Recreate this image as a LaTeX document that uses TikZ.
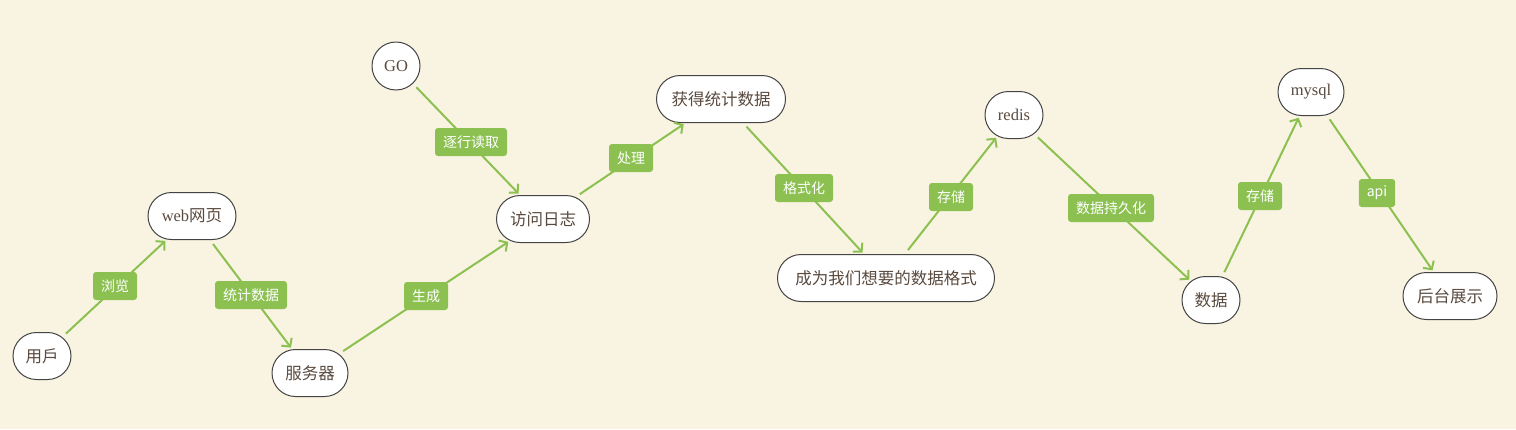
\documentclass[tikz,border=0pt]{standalone}
\usepackage{fontspec}
\setmainfont{Liberation Serif}
\newfontfamily\cjk{Noto Sans CJK SC}
\usetikzlibrary{arrows.meta,shapes.misc}
\definecolor{bgc}{HTML}{F9F4E1}
\definecolor{grn}{HTML}{8CC152}
\definecolor{txt}{HTML}{5A4A3E}
\definecolor{bd}{HTML}{444444}
\tikzset{
  box/.style={draw=bd, fill=white, line width=1pt, rounded rectangle,
    minimum height=47pt, inner xsep=6pt, text=txt, font=\fontsize{16.5}{18}\selectfont},
  lbl/.style={fill=grn, text=white, rounded corners=3pt, inner xsep=8pt, inner ysep=0pt,
    minimum height=28pt, font=\cjk\fontsize{14}{15}\selectfont},
  conn/.style={draw=grn, line width=2pt, shorten <=5pt, shorten >=2pt,
    -{Straight Barb[length=6pt,width=13pt,line width=2pt]}},
}
\begin{document}
\begin{tikzpicture}[x=1pt,y=-1pt]
\fill[bgc] (0,0) rectangle (1516,429);
\useasboundingbox (0,0) rectangle (1516,429);
\node[box, minimum width=66pt, inner xsep=4pt] (user) at (42,356) {\cjk 用戶};
\node[box, minimum width=100pt] (web) at (192,216) {web{\cjk 网页}};
\node[box, minimum width=88pt] (srv) at (310,373) {\cjk 服务器};
\node[box, minimum width=50pt, minimum height=48pt, inner xsep=1pt] (go) at (396,66) {GO};
\node[box, minimum width=105pt] (log) at (543,219) {\cjk 访问日志};
\node[box, minimum width=141pt] (stat) at (721,99) {\cjk 获得统计数据};
\node[box, minimum width=229pt] (fmt) at (886,278) {\cjk 成为我们想要的数据格式};
\node[box, minimum width=66pt, inner xsep=4pt] (redis) at (1014,115) {redis};
\node[box, minimum width=66pt, inner xsep=4pt] (data) at (1211,300) {\cjk 数据};
\node[box, minimum width=74pt, inner xsep=4pt] (mysql) at (1311,92) {mysql};
\node[box, minimum width=106pt] (show) at (1450,296) {\cjk 后台展示};

\draw[conn] (user) -- (web);
\draw[conn] (web) -- (srv);
\draw[conn] (srv) -- (log);
\draw[conn] (go) -- (log);
\draw[conn] (log) -- (stat);
\draw[conn] (stat) -- (fmt);
\draw[conn] (fmt) -- (redis);
\draw[conn] (redis) -- (data);
\draw[conn] (data) -- (mysql);
\draw[conn] (mysql) -- (show);

\node[lbl] (l1) at (115,286) {浏览};
\node[lbl] (l2) at (251,295) {统计数据};
\node[lbl] (l3) at (426,296) {生成};
\node[lbl] (l4) at (471,142) {逐行读取};
\node[lbl] (l5) at (631,158) {处理};
\node[lbl] (l6) at (804,188) {格式化};
\node[lbl] (l7) at (951,197) {存储};
\node[lbl] (l8) at (1111,208) {数据持久化};
\node[lbl] (l9) at (1260,196) {存储};
\node[lbl] (l10) at (1377,193) {api};
\end{tikzpicture}
\end{document}
